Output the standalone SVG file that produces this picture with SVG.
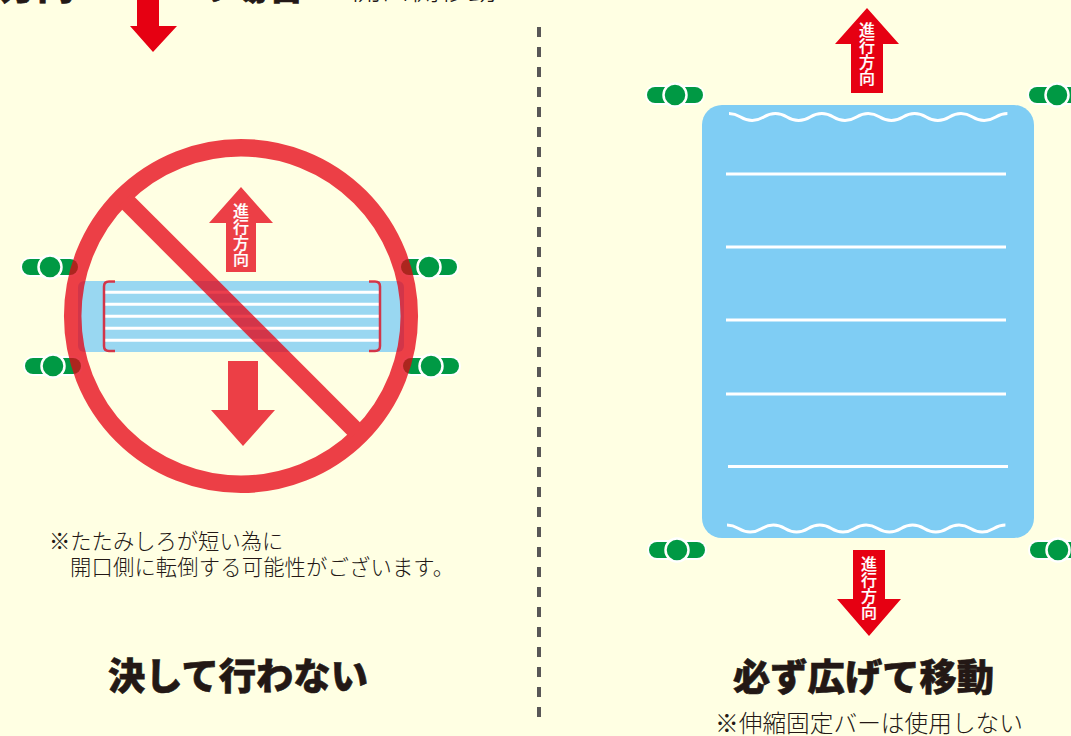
<svg xmlns="http://www.w3.org/2000/svg" width="1071" height="736" viewBox="0 0 1071 736">
<style>
.cjk{font-family:"Noto Sans CJK JP","Noto Sans CJK SC",sans-serif}
.head{font-weight:900;fill:#231815;font-size:37.3px;stroke:#231815;stroke-width:.6}
.note{fill:#231815;font-size:21.3px;font-weight:300}
.dir{fill:#fff;font-size:16px;font-weight:500;text-anchor:middle;stroke:#fff;stroke-width:.2}
.wl{stroke:#fff;stroke-width:3;fill:none}
.g{fill:#009944}
</style>
<defs>
<g id="clip">
<rect x="-28" y="-8" width="56" height="16" rx="8" class="g" stroke="#fff" stroke-width="4" paint-order="stroke"/>
<circle r="11.500" class="g" stroke="#fff" stroke-width="2.500"/>
</g>
</defs>
<rect width="1071" height="736" fill="#ffffe3"/>
<g id="top-text" class="cjk">
<text x="-37.500" y="0" class="head">行方向</text>
<text x="193" y="0" class="head">の場合</text>
<text x="352" y="0" font-size="29" font-weight="300" fill="#231815">開口側移動</text>
</g>
<polygon id="top-arrow" points="137,0 159,0 159,26 177,26 153,52 130,26 137,26" fill="#e60012"/>
<g id="divider"><line x1="539" y1="27" x2="539" y2="717" stroke="#595757" stroke-width="4" stroke-dasharray="10 10"/></g>
<g id="left-panel">
<use href="#clip" x="50" y="267"/><use href="#clip" x="429" y="267"/>
<use href="#clip" x="53" y="366"/><use href="#clip" x="431" y="366"/>
<rect x="78" y="281" width="326" height="71" rx="6" fill="#7fcdf4" opacity=".8"/>
<g stroke="#fff" stroke-width="3"><line x1="105" y1="292.300" x2="379" y2="292.300"/><line x1="105" y1="304.300" x2="379" y2="304.300"/><line x1="105" y1="316.300" x2="379" y2="316.300"/><line x1="105" y1="328.300" x2="379" y2="328.300"/><line x1="105" y1="340.300" x2="379" y2="340.300"/></g>
<g id="prohibit" opacity=".75" fill="#e60012">
<path d="M115,281.500H109Q104,281.500 104,286.500V346Q104,351 109,351H115M369,281.500H375Q380,281.500 380,286.500V346Q380,351 375,351H369" fill="none" stroke="#e60012" stroke-width="2.500"/>
<circle cx="241" cy="316" r="168.300" fill="none" stroke="#e60012" stroke-width="17.500"/>
<line x1="125" y1="200" x2="357" y2="432" stroke="#e60012" stroke-width="18"/>
<polygon points="241,187 273,223 256,223 256,272 226,272 226,223 209,223"/>
<polygon points="228,361 258,361 258,410 275,410 243,446 211,410 228,410"/>
</g>
<g class="cjk dir"><text x="241" y="216.500">進</text><text x="241" y="232.500">行</text><text x="241" y="248.500">方</text><text x="241" y="264.500">向</text></g>
</g>
<g id="right-panel">
<use href="#clip" x="675" y="95"/><use href="#clip" x="1057" y="95"/>
<use href="#clip" x="677" y="550"/><use href="#clip" x="1058" y="550"/>
<rect x="702" y="105" width="332" height="433" rx="20" fill="#7fcdf4"/>
<path class="wl" d="M729,113.500c11.600,0,11.600,7,23.200,7s11.600,-7,23.200,-7s11.600,7,23.200,7s11.600,-7,23.200,-7s11.600,7,23.200,7s11.600,-7,23.200,-7s11.600,7,23.200,7s11.600,-7,23.200,-7s11.600,7,23.200,7s11.600,-7,23.200,-7s11.600,7,23.200,7s11.600,-7,23.200,-7"/>
<path class="wl" d="M727,525c11.600,0,11.600,7,23.200,7s11.600,-7,23.200,-7s11.600,7,23.200,7s11.600,-7,23.200,-7s11.600,7,23.200,7s11.600,-7,23.200,-7s11.600,7,23.200,7s11.600,-7,23.200,-7s11.600,7,23.200,7s11.600,-7,23.200,-7s11.600,7,23.200,7s11.600,-7,23.200,-7"/>
<g class="wl"><line x1="726" y1="174" x2="1006" y2="174"/><line x1="726" y1="247" x2="1006" y2="247"/><line x1="726" y1="320" x2="1006" y2="320"/><line x1="726" y1="394" x2="1006" y2="394"/><line x1="728" y1="466.500" x2="1008" y2="466.500"/></g>
<polygon points="867,8 899,44 883,44 883,93 851,93 851,44 835,44" fill="#e60012"/>
<polygon points="853,550 885,550 885,599 901,599 869,636 837,599 853,599" fill="#e60012"/>
<g class="cjk dir"><text x="867" y="36">進</text><text x="867" y="52">行</text><text x="867" y="68">方</text><text x="867" y="84">向</text>
<text x="869" y="570">進</text><text x="869" y="586">行</text><text x="869" y="602">方</text><text x="869" y="618">向</text></g>
</g>
<g id="labels" class="cjk">
<text x="49" y="549" class="note">※たたみしろが短い為に</text>
<text x="70" y="575" class="note" textLength="384" lengthAdjust="spacing">開口側に転倒する可能性がございます。</text>
<text x="108" y="690" class="head">決して行わない</text>
<text x="733" y="691" class="head">必ず広げて移動</text>
<text x="715" y="732" font-size="23.700" font-weight="300" fill="#231815">※伸縮固定バーは使用しない</text>
</g>
</svg>
